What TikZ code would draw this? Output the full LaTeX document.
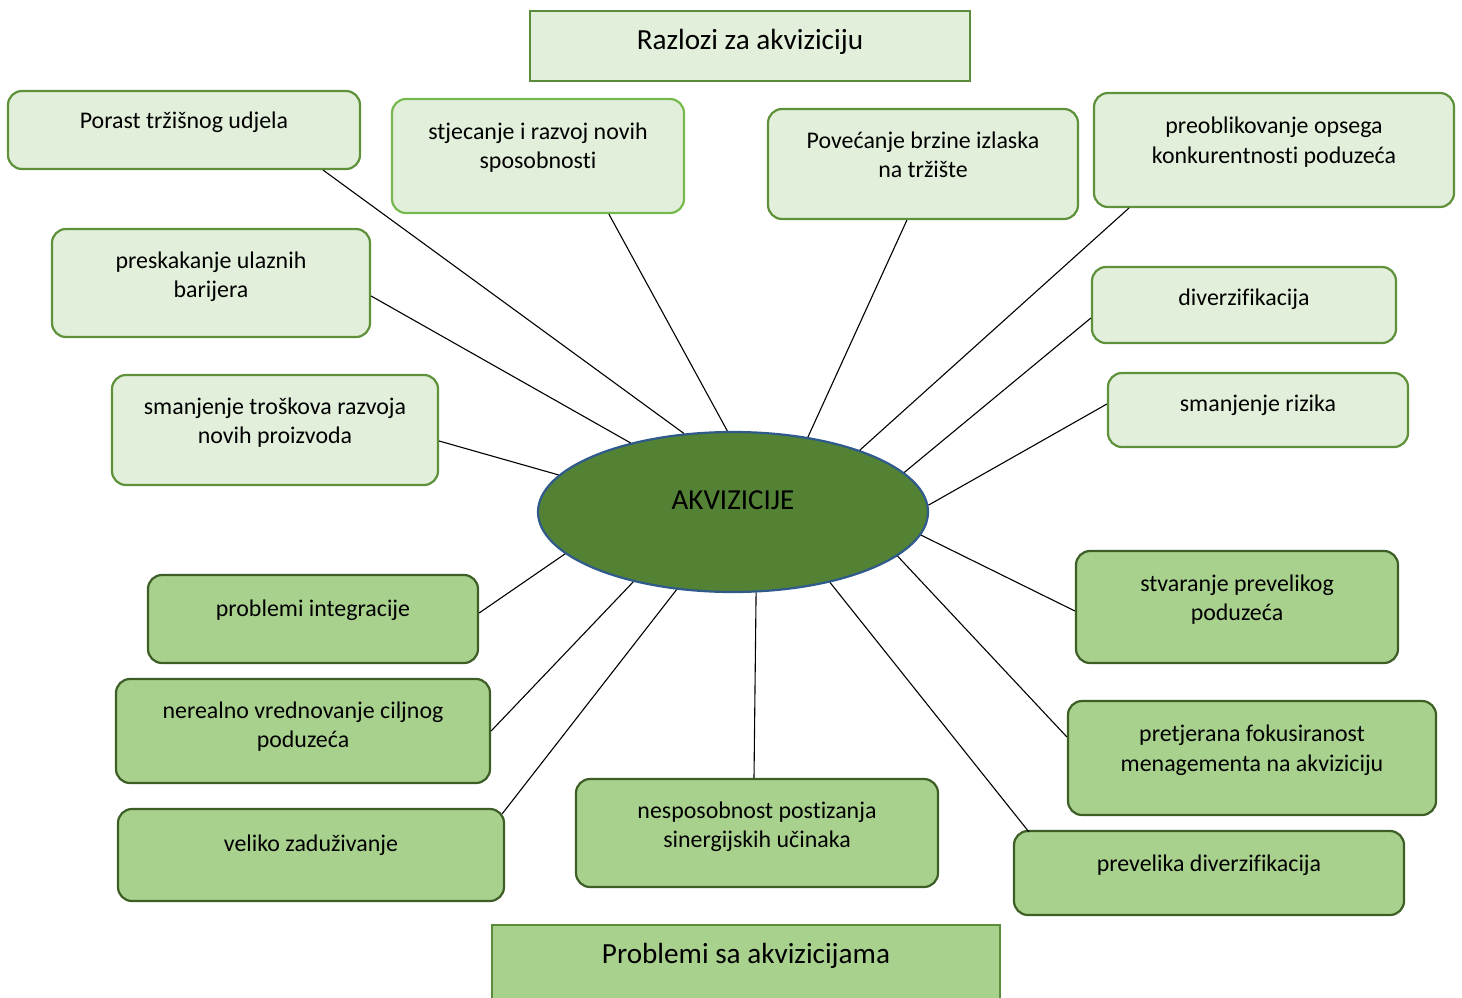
\documentclass[tikz,border=0pt]{standalone}
\usepackage{fontspec}
\setmainfont{Carlito}[Ligatures={NoCommon}]
\usetikzlibrary{shapes.geometric,calc}
\definecolor{lfill}{HTML}{E2EFDA}
\definecolor{lborder}{HTML}{5E913A}
\definecolor{lborderb}{HTML}{77B94E}
\definecolor{dfill}{HTML}{A9D18E}
\definecolor{dborder}{HTML}{3D5F26}
\definecolor{efill}{HTML}{548235}
\definecolor{eborder}{HTML}{2F5A8C}
\definecolor{tborder}{HTML}{5B8C3C}
\tikzset{
 box/.style={draw, rounded corners=14pt, line width=2.2pt, inner sep=0pt},
 lightbox/.style={box, fill=lfill, draw=lborder},
 darkbox/.style={box, fill=dfill, draw=dborder},
 titlebox/.style={draw=tborder, line width=2.2pt, inner sep=0pt},
 txt/.style={anchor=north, inner sep=0pt, align=center, font=\fontsize{23.9}{29.5}\selectfont},
 bigtxt/.style={txt, font=\fontsize{29.2}{35}\selectfont},
 link/.style={line width=1.1pt, black},
}
\begin{document}
\begin{tikzpicture}[x=1pt,y=-1pt]
\useasboundingbox (0,0) rectangle (1462,998);
\clip (0,0) rectangle (1462,998);

% titles
\node[titlebox, fill=lfill, minimum width=440pt, minimum height=70pt] (top) at (750,46) {};
\node[bigtxt] (toptxt) at ([yshift=-15pt]top.north) {\strut Razlozi za akviziciju};
\node[titlebox, fill=dfill, minimum width=508pt, minimum height=100pt] (bot) at (746,975) {};
\node[bigtxt] (bottxt) at ([yshift=-15pt]bot.north) {\strut Problemi sa akvizicijama};

% light boxes
\node[lightbox, minimum width=352pt, minimum height=78pt] (b1) at (184,130) {};
\node[txt] (t1) at ([yshift=-18pt]b1.north) {\strut Porast tržišnog udjela};
\node[lightbox, draw=lborderb, minimum width=292pt, minimum height=114pt] (b2) at (538,156) {};
\node[txt] (t2) at ([yshift=-20.5pt]b2.north) {\strut stjecanje i razvoj novih\\sposobnosti};
\node[lightbox, minimum width=310pt, minimum height=110pt] (b3) at (923,164) {};
\node[txt] (t3) at ([yshift=-19.5pt]b3.north) {\strut Povećanje brzine izlaska\\na tržište};
\node[lightbox, minimum width=360pt, minimum height=114pt] (b4) at (1274,150) {};
\node[txt] (t4) at ([yshift=-21pt]b4.north) {\strut preoblikovanje opsega\\konkurentnosti poduzeća};
\node[lightbox, minimum width=318pt, minimum height=108pt] (b5) at (211,283) {};
\node[txt] (t5) at ([yshift=-19.5pt]b5.north) {\strut preskakanje ulaznih\\barijera};
\node[lightbox, minimum width=304pt, minimum height=76pt] (b6) at (1244,305) {};
\node[txt] (t6) at ([yshift=-18.5pt]b6.north) {\strut diverzifikacija};
\node[lightbox, minimum width=326pt, minimum height=110pt] (b7) at (275,430) {};
\node[txt] (t7) at ([yshift=-19.5pt]b7.north) {\strut smanjenje troškova razvoja\\novih proizvoda};
\node[lightbox, minimum width=300pt, minimum height=74pt] (b8) at (1258,410) {};
\node[txt] (t8) at ([yshift=-18.5pt]b8.north) {\strut smanjenje rizika};

% dark boxes
\node[darkbox, minimum width=330pt, minimum height=88pt] (b9) at (313,619) {};
\node[txt] (t9) at ([yshift=-22pt]b9.north) {\strut problemi integracije};
\node[darkbox, minimum width=374pt, minimum height=104pt] (b10) at (303,731) {};
\node[txt] (t10) at ([yshift=-19.5pt]b10.north) {\strut nerealno vrednovanje ciljnog\\poduzeća};
\node[darkbox, minimum width=386pt, minimum height=92pt] (b11) at (311,855) {};
\node[txt] (t11) at ([yshift=-23pt]b11.north) {\strut veliko zaduživanje};
\node[darkbox, minimum width=362pt, minimum height=108pt] (b12) at (757,833) {};
\node[txt] (t12) at ([yshift=-19.5pt]b12.north) {\strut nesposobnost postizanja\\sinergijskih učinaka};
\node[darkbox, minimum width=322pt, minimum height=112pt] (b13) at (1237,607) {};
\node[txt] (t13) at ([yshift=-20.5pt]b13.north) {\strut stvaranje prevelikog\\poduzeća};
\node[darkbox, minimum width=368pt, minimum height=114pt] (b14) at (1252,758) {};
\node[txt] (t14) at ([yshift=-21pt]b14.north) {\strut pretjerana fokusiranost\\menagementa na akviziciju};
\node[darkbox, minimum width=390pt, minimum height=84pt] (b15) at (1209,873) {};
\node[txt] (t15) at ([yshift=-20.5pt]b15.north) {\strut prevelika diverzifikacija};

% centre ellipse
\node[ellipse, draw=eborder, fill=efill, line width=2.2pt, minimum width=390pt, minimum height=160pt, inner sep=0pt] (e) at (733,512) {};
\node[anchor=base, inner sep=0pt, font=\fontsize{29}{35}\selectfont] (et) at ([yshift=2.5pt]e.center) {AKVIZICIJE};

% connectors
\draw[link] ([xshift=-38pt]b1.south east) -- (e.122);
\draw[link] ([xshift=218pt]b2.south west) -- (e.94);
\draw[link] ([xshift=140pt]b3.south west) -- (e.45);
\draw[link] ([xshift=36pt]b4.south west) -- (e.26);
\draw[link] ([yshift=-13pt]b5.east) -- (e.146);
\draw[link] ([yshift=-13pt]b6.west) -- (e.13);
\draw[link] ([yshift=-11pt]b7.east) -- (e.168);
\draw[link] ([yshift=6pt]b8.west) -- (e.2);
\draw[link] ([yshift=6pt]b9.east) -- (e.194);
\draw[link] (b10.east) -- (e.215);
\draw[link] ([xshift=-3pt,yshift=-6pt]b11.north east) -- (e.234);
\draw[link] ([xshift=-3pt]b12.north) -- (e.286);
\draw[link] ([yshift=-4pt]b13.west) -- (e.353);
\draw[link] ([yshift=21pt]b14.west) -- (e.345);
\draw[link] ([xshift=16pt,yshift=-2pt]b15.north west) -- (e.324);
\end{tikzpicture}
\end{document}
